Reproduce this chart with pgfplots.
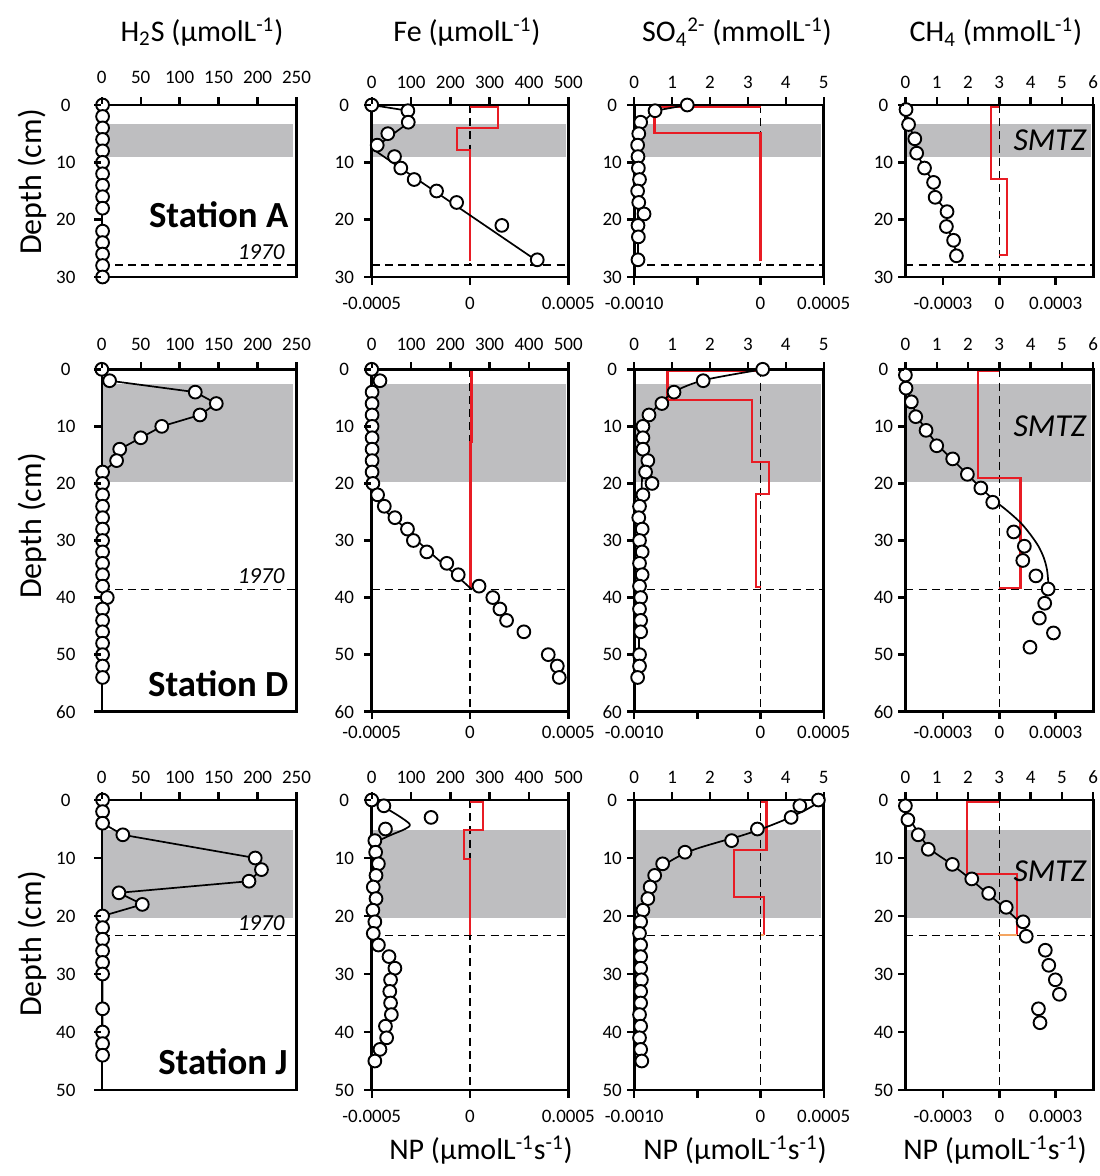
\documentclass[border=0pt]{standalone}
\usepackage{fontspec}
\setmainfont{Carlito}
\usepackage{pgfplots}
\pgfplotsset{compat=1.18}
\definecolor{npred}{RGB}{232,28,36}
\definecolor{bandgray}{RGB}{190,190,192}
\definecolor{npor}{RGB}{244,164,96}
\pgfplotsset{
  base/.style={clip=false, scale only axis, anchor=north west, y dir=reverse,
    axis line style={line width=1.3pt},
    every outer x axis line/.append style={line width=1.3pt},
    every outer y axis line/.append style={line width=1.3pt},
    major tick length=0pt,
    scaled x ticks=false, scaled y ticks=false,
    /pgf/number format/assume math mode=true,
    tick label style={font=\fontsize{9.5}{11}\selectfont},
  },
  conc/.style={base, xtick pos=right, xticklabel pos=right, ytick pos=left,
    xticklabel style={anchor=center, yshift=11.5pt}},
  np/.style={base, xtick pos=left, xticklabel pos=left, ytick=\empty,
    xticklabel style={anchor=center, yshift=-13pt}},
  yc1/.style={yticklabel style={anchor=center, xshift=-18pt}},
  yc2/.style={yticklabel style={anchor=center, xshift=-13.7pt}},
  yc3/.style={yticklabel style={anchor=center, xshift=-11pt}},
  circ/.style={only marks, mark=*, mark size=3.2pt, mark options={fill=white, draw=black, line width=0.95pt, solid}},
  circline/.style={black, line width=0.85pt, mark=*, mark size=3.2pt, mark options={fill=white, draw=black, line width=0.95pt, solid}},
  fit/.style={black, line width=0.85pt, no marks},
  redstep/.style={npred, line width=1.1pt, no marks},
  orstep/.style={npor, line width=1.1pt, no marks},
}
\tikzset{dashline/.style={black, line width=0.55pt, dash pattern=on 4pt off 2.6pt},
  mytick/.style={draw=black, line width=1.2pt}}
\newcommand{\topticks}[2]{\pgfplotsinvokeforeach{#2}{\draw[mytick] ([yshift=0.6pt]axis cs:##1,#1) -- ([yshift=3.8pt]axis cs:##1,#1);}}
\newcommand{\leftticks}[2]{\pgfplotsinvokeforeach{#2}{\draw[mytick] ([xshift=-0.6pt]axis cs:#1,##1) -- ([xshift=-3.8pt]axis cs:#1,##1);}}
\newcommand{\botticks}[2]{\pgfplotsinvokeforeach{#2}{\draw[mytick] ([yshift=-0.6pt]axis cs:##1,#1) -- ([yshift=-3.8pt]axis cs:##1,#1);}}
\newcommand{\tfont}{\fontsize{15}{18}\selectfont}
\begin{document}
\begin{tikzpicture}
\node[font=\tfont] at (101pt,-16pt) {H\textsubscript{2}S (µmolL\textsuperscript{-1})};
\node[font=\tfont] at (233.5pt,-16pt) {Fe (µmolL\textsuperscript{-1})};
\node[font=\tfont] at (368.5pt,-16pt) {SO\textsubscript{4}\textsuperscript{2-} (mmolL\textsuperscript{-1})};
\node[font=\tfont] at (498pt,-16pt) {CH\textsubscript{4} (mmolL\textsuperscript{-1})};
\node[font=\tfont] at (240.5pt,-575pt) {NP (µmolL\textsuperscript{-1}s\textsuperscript{-1})};
\node[font=\tfont] at (367.5pt,-575pt) {NP (µmolL\textsuperscript{-1}s\textsuperscript{-1})};
\node[font=\tfont] at (497.5pt,-575pt) {NP (µmolL\textsuperscript{-1}s\textsuperscript{-1})};
\node[font=\fontsize{16}{19}\selectfont, rotate=90] at (16pt,-91pt) {Depth (cm)};
\node[font=\fontsize{16}{19}\selectfont, rotate=90] at (16pt,-263pt) {Depth (cm)};
\node[font=\fontsize{16}{19}\selectfont, rotate=90] at (16pt,-472pt) {Depth (cm)};

\begin{axis}[conc, yc1, at={(50.9pt,-52.5pt)}, width=97.35pt, height=86pt,
  xmin=0, xmax=250, xtick={0,50,...,250}, ymin=0, ymax=30, ytick={0,10,20,30},
  xticklabel style={yshift=2.5pt},
  extra description/.code={\topticks{0}{0,50,100,150,200,250}\leftticks{0}{0,10,20,30}}]
\fill[bandgray] (axis cs:1.8,3.4) rectangle (axis cs:246,9.1);
\draw[dashline] (axis cs:0,27.9) -- (axis cs:250,27.9);
\addplot[circline] coordinates {(1,0)(1,2)(1,4)(1,6)(1,8)(1,10)(1,12)(1,14)(1,16)(1,18)(1,22)(1,24)(1,26)(1,28)(1,30)};
\node[anchor=east, font=\fontsize{18.4}{22}\selectfont\bfseries, inner sep=0pt] at (axis cs:240,19.2) {Station A};
\node[anchor=east, font=\fontsize{11.5}{14}\selectfont\itshape, inner sep=0pt] at (axis cs:235,25.7) {1970};
\end{axis}

\begin{axis}[np, at={(185.85pt,-52.5pt)}, width=98.3pt, height=86pt,
  xmin=-0.0005, xmax=0.0005, xtick={-0.0005,0,0.0005}, xticklabels={-0.0005,0,0.0005}, ymin=0, ymax=30,
  extra description/.code={\botticks{30}{-0.0005,0,0.0005}}]
\fill[bandgray] (axis cs:-0.0005,3.4) rectangle (axis cs:0.00049,9.1);
\draw[dashline] (axis cs:-0.0005,27.9) -- (axis cs:0.0005,27.9);
\draw[dashline] (axis cs:0,0) -- (axis cs:0,28);
\addplot[redstep] coordinates {(0,0.3)(0.000144,0.3)(0.000144,4)(-0.000068,4)(-0.000068,7.8)(0,7.8)(0,27.2)};
\end{axis}
\begin{axis}[conc, yc2, at={(185.85pt,-52.5pt)}, width=98.3pt, height=86pt,
  xmin=0, xmax=500, xtick={0,100,...,500}, ymin=0, ymax=30, ytick={0,10,20,30},
  extra description/.code={\topticks{0}{0,100,200,300,400,500}\leftticks{0}{0,10,20,30}}]
\addplot[fit] coordinates {(0,0)(92,1)(95,3)(3,7.7)(425,27.4)};
\addplot[circ] coordinates {(0,0)(92,1)(93,3)(41,5)(14,7)(58,9)(74,11)(108,13)(165,15)(216,17)(331,21)(421,27)};
\end{axis}

\begin{axis}[np, at={(317.1pt,-52.5pt)}, width=94.75pt, height=86pt,
  xmin=-0.001, xmax=0.0005, xtick={-0.001,-0.0005,0,0.0005}, xticklabels={-0.0010,,0,0.0005}, ymin=0, ymax=30,
  extra description/.code={\botticks{30}{-0.001,-0.0005,0,0.0005}}]
\fill[bandgray] (axis cs:-0.001,3.4) rectangle (axis cs:0.00048,9.1);
\draw[dashline] (axis cs:-0.001,27.9) -- (axis cs:0.0005,27.9);
\draw[dashline] (axis cs:0,0) -- (axis cs:0,28);
\addplot[redstep] coordinates {(0,0.3)(-0.00084,0.3)(-0.00084,4.9)(0,4.9)(0,27.2)};
\end{axis}
\begin{axis}[conc, yc3, at={(317.1pt,-52.5pt)}, width=94.75pt, height=86pt,
  xmin=0, xmax=5, xtick={0,1,...,5}, ymin=0, ymax=30, ytick={0,10,20,30},
  extra description/.code={\topticks{0}{0,1,2,3,4,5}\leftticks{0}{0,10,20,30}}]
\addplot[fit] coordinates {(1.4,0)(0.55,1)(0.22,3)(0.12,5)(0.1,8)(0.1,27)};
\addplot[circ] coordinates {(1.4,0)(0.55,1)(0.17,3)(0.12,5)(0.09,7)(0.1,9)(0.11,11)(0.14,13)(0.09,15)(0.12,17)(0.26,19)(0.1,21)(0.11,23)(0.1,27)};
\end{axis}

\begin{axis}[np, at={(452.7pt,-52.5pt)}, width=93.9pt, height=86pt,
  xmin=-0.0005, xmax=0.0005, xtick={-0.0003,0,0.0003}, xticklabels={-0.0003,0,0.0003}, ymin=0, ymax=30,
  extra description/.code={\botticks{30}{-0.0003,0,0.0003}}]
\fill[bandgray] (axis cs:-0.0005,3.4) rectangle (axis cs:0.00049,9.1);
\draw[dashline] (axis cs:-0.0005,27.9) -- (axis cs:0.0005,27.9);
\draw[dashline] (axis cs:0,0) -- (axis cs:0,30);
\addplot[redstep] coordinates {(0,0.3)(-0.000043,0.3)(-0.000043,12.9)(0.000041,12.9)(0.000041,26.2)(0,26.2)};
\end{axis}
\begin{axis}[conc, yc3, at={(452.7pt,-52.5pt)}, width=93.9pt, height=86pt,
  xmin=0, xmax=6, xtick={0,1,...,6}, ymin=0, ymax=30, ytick={0,10,20,30},
  extra description/.code={\topticks{0}{0,1,2,3,4,5,6}\leftticks{0}{0,10,20,30}}]
\addplot[circline] coordinates {(0.02,0.8)(0.1,3.4)(0.3,5.9)(0.36,8.4)(0.61,11)(0.9,13.5)(0.95,16.1)(1.33,18.6)(1.31,21.2)(1.54,23.6)(1.63,26.3)};
\node[anchor=east, font=\fontsize{16}{19}\selectfont\itshape, inner sep=0pt] at (axis cs:5.78,6.1) {SMTZ};
\end{axis}

\begin{axis}[conc, yc1, at={(50.9pt,-184.65pt)}, width=97.35pt, height=171.2pt,
  xmin=0, xmax=250, xtick={0,50,...,250}, ymin=0, ymax=60, ytick={0,10,...,60},
  xticklabel style={yshift=1pt},
  extra description/.code={\topticks{0}{0,50,100,150,200,250}\leftticks{0}{0,10,20,30,40,50,60}}]
\fill[bandgray] (axis cs:1.8,2.5) rectangle (axis cs:246,19.7);
\draw[dashline] (axis cs:0,38.6) -- (axis cs:250,38.6);
\addplot[circline] coordinates {(0,0)(10,2)(120,4)(147,6)(126,8)(77,10)(50,12)(23,14)(19,16)(1,18)(1,20)(1,22)(1,24)(1,26)(1,28)(1,30)(1,32)(1,34)(1,36)(1,38)(7,40)(1,42)(1,44)(1,46)(1,48)(1,50)(1,52)(1,54)};
\node[anchor=east, font=\fontsize{18.4}{22}\selectfont\bfseries, inner sep=0pt] at (axis cs:240,55.1) {Station D};
\node[anchor=east, font=\fontsize{11.5}{14}\selectfont\itshape, inner sep=0pt] at (axis cs:235,36.2) {1970};
\end{axis}

\begin{axis}[np, at={(185.85pt,-184.65pt)}, width=98.3pt, height=171.2pt,
  xmin=-0.0005, xmax=0.0005, xtick={-0.0005,0,0.0005}, xticklabels={-0.0005,0,0.0005}, ymin=0, ymax=60,
  xticklabel style={yshift=2.5pt},
  extra description/.code={\botticks{60}{-0.0005,0,0.0005}}]
\fill[bandgray] (axis cs:-0.0005,2.5) rectangle (axis cs:0.00049,19.7);
\draw[dashline] (axis cs:-0.0005,38.6) -- (axis cs:0.0005,38.6);
\draw[dashline] (axis cs:0,0) -- (axis cs:0,60);
\addplot[redstep] coordinates {(0.000008,0.3)(0.000008,12.7)(0.000002,12.7)(0.000002,38.2)(0,38.2)};
\end{axis}
\begin{axis}[conc, yc2, at={(185.85pt,-184.65pt)}, width=98.3pt, height=171.2pt,
  xmin=0, xmax=500, xtick={0,100,...,500}, ymin=0, ymax=60, ytick={0,10,...,60},
  xticklabel style={yshift=1pt},
  extra description/.code={\topticks{0}{0,100,200,300,400,500}\leftticks{0}{0,10,20,30,40,50,60}}]
\addplot[fit, smooth, tension=0.4] coordinates {(0,0)(0,19)(5,21.5)(20,23.5)(45,25.5)(80,27.5)(115,30)(160,32.8)(210,35.8)(255,38.6)};
\addplot[circ] coordinates {(0,0)(21,2)(1,4)(1,6)(1,8)(1,10)(1,12)(1,14)(1,16)(1,18)(3,20)(15,22)(32,24)(59,26)(91,28)(106,30)(140,32)(191,34)(220,36)(273,38)(308,40)(326,42)(343,44)(387,46)(449,50)(472,52)(477,54)};
\end{axis}

\begin{axis}[np, at={(317.1pt,-184.65pt)}, width=94.75pt, height=171.2pt,
  xmin=-0.001, xmax=0.0005, xtick={-0.001,-0.0005,0,0.0005}, xticklabels={-0.0010,,0,0.0005}, ymin=0, ymax=60,
  xticklabel style={yshift=2.5pt},
  extra description/.code={\botticks{60}{-0.001,-0.0005,0,0.0005}}]
\fill[bandgray] (axis cs:-0.001,2.5) rectangle (axis cs:0.00048,19.7);
\draw[dashline] (axis cs:-0.001,38.6) -- (axis cs:0.0005,38.6);
\draw[dashline] (axis cs:0,0) -- (axis cs:0,60);
\addplot[redstep] coordinates {(0,0.3)(-0.000736,0.3)(-0.000736,5.4)(-0.000069,5.4)(-0.000069,16.3)(0.000064,16.3)(0.000064,21.8)(-0.000033,21.8)(-0.000033,38.2)(0,38.2)};
\end{axis}
\begin{axis}[conc, yc3, at={(317.1pt,-184.65pt)}, width=94.75pt, height=171.2pt,
  xmin=0, xmax=5, xtick={0,1,...,5}, ymin=0, ymax=60, ytick={0,10,...,60},
  xticklabel style={yshift=1pt},
  extra description/.code={\topticks{0}{0,1,2,3,4,5}\leftticks{0}{0,10,20,30,40,50,60}}]
\addplot[fit, smooth, tension=0.5] coordinates {(3.4,0)(1.9,1.8)(1.15,3.6)(0.72,5.7)(0.45,7.8)(0.32,10)(0.26,13)(0.22,17)(0.19,22)(0.16,28)(0.14,38)(0.12,54)};
\addplot[circ] coordinates {(3.39,0)(1.82,2)(1.05,4)(0.73,6)(0.39,8)(0.23,10)(0.23,12)(0.23,14)(0.36,16)(0.30,18)(0.47,20)(0.23,22)(0.14,24)(0.12,26)(0.21,28)(0.14,30)(0.21,32)(0.14,34)(0.21,36)(0.14,38)(0.17,40)(0.14,42)(0.17,44)(0.17,46)(0.14,50)(0.14,52)(0.09,54)};
\end{axis}

\begin{axis}[np, at={(452.7pt,-184.65pt)}, width=93.9pt, height=171.2pt,
  xmin=-0.0005, xmax=0.0005, xtick={-0.0003,0,0.0003}, xticklabels={-0.0003,0,0.0003}, ymin=0, ymax=60,
  xticklabel style={yshift=2.5pt},
  extra description/.code={\botticks{60}{-0.0003,0,0.0003}}]
\fill[bandgray] (axis cs:-0.0005,2.5) rectangle (axis cs:0.00049,19.7);
\draw[dashline] (axis cs:-0.0005,38.6) -- (axis cs:0.0005,38.6);
\draw[dashline] (axis cs:0,0) -- (axis cs:0,60);
\addplot[redstep] coordinates {(0,0.3)(-0.000113,0.3)(-0.000113,19.1)(0.000113,19.1)(0.000113,38.3)(0,38.3)};
\end{axis}
\begin{axis}[conc, yc3, at={(452.7pt,-184.65pt)}, width=93.9pt, height=171.2pt,
  xmin=0, xmax=6, xtick={0,1,...,6}, ymin=0, ymax=60, ytick={0,10,...,60},
  xticklabel style={yshift=1pt},
  extra description/.code={\topticks{0}{0,1,2,3,4,5,6}\leftticks{0}{0,10,20,30,40,50,60}}]
\addplot[fit, smooth, tension=0.5] coordinates {(0,0)(0.05,3)(0.2,5.7)(0.38,8.3)(0.68,10.7)(1.02,13.2)(1.5,15.8)(1.98,18.4)(2.41,20.8)(2.85,23)(3.3,25)(3.7,27)(4.0,29)(4.25,31)(4.42,33)(4.52,35)(4.56,37)(4.57,38.6)};
\addplot[circ] coordinates {(0,1)(0.02,3.3)(0.19,5.7)(0.33,8.3)(0.66,10.7)(1.0,13.4)(1.51,15.7)(1.98,18.4)(2.41,20.8)(2.79,23.3)(3.46,28.5)(3.80,31)(3.75,33.5)(4.17,36.2)(4.56,38.5)(4.45,41)(4.28,43.6)(4.73,46.2)(3.98,48.7)};
\node[anchor=east, font=\fontsize{16}{19}\selectfont\itshape, inner sep=0pt] at (axis cs:5.78,10.05) {SMTZ};
\end{axis}

\begin{axis}[conc, yc1, at={(50.9pt,-400pt)}, width=97.35pt, height=145pt,
  xmin=0, xmax=250, xtick={0,50,...,250}, ymin=0, ymax=50, ytick={0,10,...,50},
  extra description/.code={\topticks{0}{0,50,100,150,200,250}\leftticks{0}{0,10,20,30,40,50}}]
\fill[bandgray] (axis cs:1.8,5.1) rectangle (axis cs:246,20.3);
\draw[dashline] (axis cs:0,23.4) -- (axis cs:250,23.4);
\addplot[circline] coordinates {(1,0)(1,2)(1,4)(27,6)(197,10)(205,12)(189,14)(22,16)(52,18)(1,20)(1,22)(1,24)(1,26)(1,28)(1,30)(1,36)(1,40)(1,42)(1,44)};
\node[anchor=east, font=\fontsize{18.4}{22}\selectfont\bfseries, inner sep=0pt] at (axis cs:239,45.1) {Station J};
\node[anchor=east, font=\fontsize{11.5}{14}\selectfont\itshape, inner sep=0pt] at (axis cs:235,21.2) {1970};
\end{axis}

\begin{axis}[np, at={(185.85pt,-400pt)}, width=98.3pt, height=145pt,
  xmin=-0.0005, xmax=0.0005, xtick={-0.0005,0,0.0005}, xticklabels={-0.0005,0,0.0005}, ymin=0, ymax=50,
  extra description/.code={\botticks{50}{-0.0005,0,0.0005}}]
\fill[bandgray] (axis cs:-0.0005,5.1) rectangle (axis cs:0.00049,20.3);
\draw[dashline] (axis cs:-0.0005,23.4) -- (axis cs:0.0005,23.4);
\draw[dashline] (axis cs:0,0) -- (axis cs:0,50);
\addplot[redstep] coordinates {(0,0.3)(0.000067,0.3)(0.000067,5.2)(-0.000029,5.2)(-0.000029,10.2)(0,10.2)(0,23.3)};
\end{axis}
\begin{axis}[conc, yc2, at={(185.85pt,-400pt)}, width=98.3pt, height=145pt,
  xmin=0, xmax=500, xtick={0,100,...,500}, ymin=0, ymax=50, ytick={0,10,...,50},
  extra description/.code={\topticks{0}{0,100,200,300,400,500}\leftticks{0}{0,10,20,30,40,50}}]
\addplot[fit, smooth, tension=0.5] coordinates {(0,0)(31,1.2)(70,2.8)(97,4.2)(85,5.0)(50,6.0)(20,7.0)(5,8.2)(0,9.5)};
\addplot[circ] coordinates {(0,0)(31,1)(151,3)(35,5)(8,7)(10,9)(17,11)(11,13)(4,15)(11,17)(3,19)(8,21)(4,23)(17,25)(44,27)(59,29)(48,31)(46,33)(48,35)(50,37)(35,39)(38,41)(21,43)(8,45)};
\end{axis}

\begin{axis}[np, at={(317.1pt,-400pt)}, width=94.75pt, height=145pt,
  xmin=-0.001, xmax=0.0005, xtick={-0.001,-0.0005,0,0.0005}, xticklabels={-0.0010,,0,0.0005}, ymin=0, ymax=50,
  extra description/.code={\botticks{50}{-0.001,-0.0005,0,0.0005}}]
\fill[bandgray] (axis cs:-0.001,5.1) rectangle (axis cs:0.00048,20.3);
\draw[dashline] (axis cs:-0.001,23.4) -- (axis cs:0.0005,23.4);
\draw[dashline] (axis cs:0,0) -- (axis cs:0,50);
\addplot[redstep] coordinates {(0,0.3)(0.000047,0.3)(0.000047,8.6)(-0.000212,8.6)(-0.000212,16.7)(0.000028,16.7)(0.000028,23.3)};
\addplot[orstep] coordinates {(0.000028,23.3)(0,23.3)};
\end{axis}
\begin{axis}[conc, yc3, at={(317.1pt,-400pt)}, width=94.75pt, height=145pt,
  xmin=0, xmax=5, xtick={0,1,...,5}, ymin=0, ymax=50, ytick={0,10,...,50},
  extra description/.code={\topticks{0}{0,1,2,3,4,5}\leftticks{0}{0,10,20,30,40,50}}]
\addplot[fit, smooth, tension=0.5] coordinates {(4.97,0)(4.5,1.8)(3.9,3.6)(3.35,5)(2.8,6.2)(2.2,7.3)(1.6,8.5)(1.15,9.8)(0.85,11)(0.62,12.5)(0.48,14)(0.38,16)(0.3,18)(0.24,20)(0.2,22)(0.17,24)};
\addplot[circ] coordinates {(4.86,0)(4.37,1)(4.14,3)(3.25,5)(2.57,7)(1.34,9)(0.75,11)(0.54,13)(0.42,15)(0.36,17)(0.23,19)(0.17,21)(0.14,23)(0.17,25)(0.17,27)(0.17,29)(0.19,31)(0.17,33)(0.17,35)(0.14,37)(0.17,39)(0.14,41)(0.17,43)(0.2,45)};
\end{axis}

\begin{axis}[np, at={(452.7pt,-400pt)}, width=93.9pt, height=145pt,
  xmin=-0.0005, xmax=0.0005, xtick={-0.0003,0,0.0003}, xticklabels={-0.0003,0,0.0003}, ymin=0, ymax=50,
  extra description/.code={\botticks{50}{-0.0003,0,0.0003}}]
\fill[bandgray] (axis cs:-0.0005,5.1) rectangle (axis cs:0.00049,20.3);
\draw[dashline] (axis cs:-0.0005,23.4) -- (axis cs:0.0005,23.4);
\draw[dashline] (axis cs:0,0) -- (axis cs:0,50);
\addplot[redstep] coordinates {(0,0.3)(-0.000174,0.3)(-0.000174,12.8)(0.000094,12.8)(0.000094,23.3)};
\addplot[orstep] coordinates {(0.000094,23.3)(0,23.3)};
\end{axis}
\begin{axis}[conc, yc3, at={(452.7pt,-400pt)}, width=93.9pt, height=145pt,
  xmin=0, xmax=6, xtick={0,1,...,6}, ymin=0, ymax=50, ytick={0,10,...,50},
  extra description/.code={\topticks{0}{0,1,2,3,4,5,6}\leftticks{0}{0,10,20,30,40,50}}]
\addplot[fit, smooth, tension=0.5] coordinates {(0,0.5)(0.12,3)(0.43,5.8)(0.78,8.4)(1.4,10.8)(1.98,13.2)(2.55,15.8)(3.1,18.3)(3.6,20.8)(4.05,23.6)};
\addplot[circ] coordinates {(0,1)(0.08,3.4)(0.41,6)(0.73,8.5)(1.50,11.1)(2.12,13.6)(2.66,16.1)(3.22,18.5)(3.76,21)(3.86,23.5)(4.47,25.9)(4.58,28.5)(4.79,31)(4.92,33.5)(4.25,36)(4.3,38.4)};
\node[anchor=east, font=\fontsize{16}{19}\selectfont\itshape, inner sep=0pt] at (axis cs:5.78,12.36) {SMTZ};
\end{axis}

\pgfresetboundingbox
\path (0,0) rectangle (549.5pt,-588pt);
\end{tikzpicture}
\end{document}
